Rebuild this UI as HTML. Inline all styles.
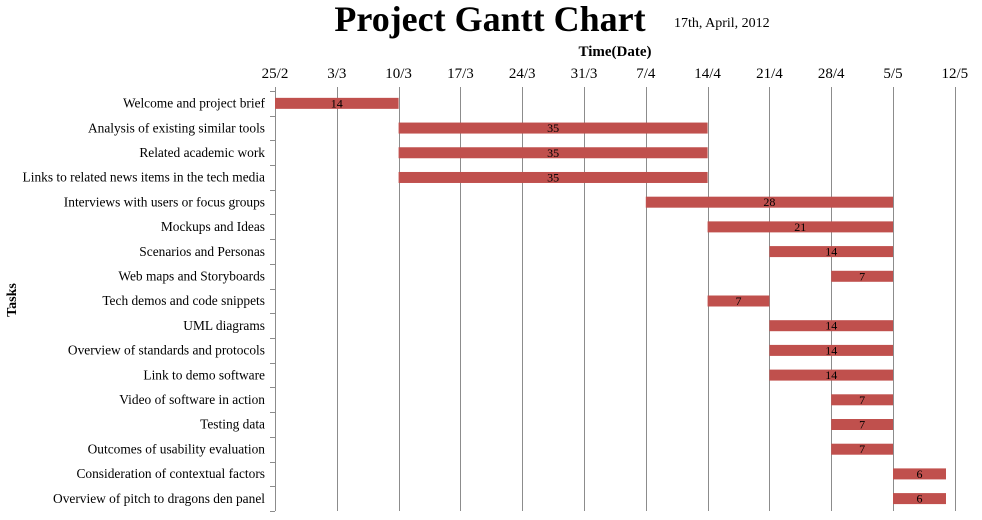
<!DOCTYPE html>
<html><head><meta charset="utf-8"><style>
html,body{margin:0;padding:0;background:#fff;}
svg{display:block;font-family:"Liberation Serif",serif;}
</style></head><body>
<svg width="982" height="520" viewBox="0 0 982 520" xmlns="http://www.w3.org/2000/svg">
<text x="490" y="31" font-size="36" font-weight="bold" text-anchor="middle">Project  Gantt  Chart</text>
<text x="674" y="27" font-size="14">17th,  April,  2012</text>
<text x="615" y="56" font-size="15" font-weight="bold" text-anchor="middle">Time(Date)</text>
<text transform="translate(16,300) rotate(-90)" font-size="14" font-weight="bold" text-anchor="middle">Tasks</text>
<g stroke="#8c8c8c" stroke-width="1">
<line x1="275.5" x2="275.5" y1="87" y2="511"/>
<line x1="337.5" x2="337.5" y1="87" y2="511"/>
<line x1="399.5" x2="399.5" y1="87" y2="511"/>
<line x1="460.5" x2="460.5" y1="87" y2="511"/>
<line x1="522.5" x2="522.5" y1="87" y2="511"/>
<line x1="584.5" x2="584.5" y1="87" y2="511"/>
<line x1="646.5" x2="646.5" y1="87" y2="511"/>
<line x1="708.5" x2="708.5" y1="87" y2="511"/>
<line x1="769.5" x2="769.5" y1="87" y2="511"/>
<line x1="831.5" x2="831.5" y1="87" y2="511"/>
<line x1="893.5" x2="893.5" y1="87" y2="511"/>
<line x1="955.5" x2="955.5" y1="87" y2="511"/>
<line x1="270" x2="275" y1="91.5" y2="91.5"/>
<line x1="270" x2="275" y1="116.5" y2="116.5"/>
<line x1="270" x2="275" y1="140.5" y2="140.5"/>
<line x1="270" x2="275" y1="165.5" y2="165.5"/>
<line x1="270" x2="275" y1="190.5" y2="190.5"/>
<line x1="270" x2="275" y1="214.5" y2="214.5"/>
<line x1="270" x2="275" y1="239.5" y2="239.5"/>
<line x1="270" x2="275" y1="264.5" y2="264.5"/>
<line x1="270" x2="275" y1="289.5" y2="289.5"/>
<line x1="270" x2="275" y1="313.5" y2="313.5"/>
<line x1="270" x2="275" y1="338.5" y2="338.5"/>
<line x1="270" x2="275" y1="363.5" y2="363.5"/>
<line x1="270" x2="275" y1="387.5" y2="387.5"/>
<line x1="270" x2="275" y1="412.5" y2="412.5"/>
<line x1="270" x2="275" y1="437.5" y2="437.5"/>
<line x1="270" x2="275" y1="462.5" y2="462.5"/>
<line x1="270" x2="275" y1="486.5" y2="486.5"/>
<line x1="270" x2="275" y1="511.5" y2="511.5"/>
</g>
<g font-size="15" text-anchor="middle">
<text x="275" y="78">25/2</text>
<text x="336.8" y="78">3/3</text>
<text x="398.6" y="78">10/3</text>
<text x="460.4" y="78">17/3</text>
<text x="522.2" y="78">24/3</text>
<text x="584" y="78">31/3</text>
<text x="645.8" y="78">7/4</text>
<text x="707.6" y="78">14/4</text>
<text x="769.4" y="78">21/4</text>
<text x="831.2" y="78">28/4</text>
<text x="893" y="78">5/5</text>
<text x="954.8" y="78">12/5</text>
</g>
<g font-size="13.4" text-anchor="end">
<text x="265" y="107.6">Welcome and project brief</text>
<text x="265" y="132.3">Analysis of existing similar tools</text>
<text x="265" y="157">Related academic work</text>
<text x="265" y="181.7">Links to related news items in the tech media</text>
<text x="265" y="206.4">Interviews with users or focus groups</text>
<text x="265" y="231.1">Mockups and Ideas</text>
<text x="265" y="255.8">Scenarios and Personas</text>
<text x="265" y="280.5">Web maps and Storyboards</text>
<text x="265" y="305.2">Tech demos and code snippets</text>
<text x="265" y="329.9">UML  diagrams</text>
<text x="265" y="354.6">Overview of standards and protocols</text>
<text x="265" y="379.3">Link to demo software</text>
<text x="265" y="404">Video of software in action</text>
<text x="265" y="428.7">Testing data</text>
<text x="265" y="453.4">Outcomes of usability evaluation</text>
<text x="265" y="478.1">Consideration of contextual factors</text>
<text x="265" y="502.8">Overview of pitch to dragons den panel</text>
</g>
<g fill="#c0504d">
<rect x="275" y="97.85" width="123.6" height="11"/>
<rect x="398.6" y="122.56" width="309" height="11"/>
<rect x="398.6" y="147.26" width="309" height="11"/>
<rect x="398.6" y="171.97" width="309" height="11"/>
<rect x="645.8" y="196.68" width="247.2" height="11"/>
<rect x="707.6" y="221.38" width="185.4" height="11"/>
<rect x="769.4" y="246.09" width="123.6" height="11"/>
<rect x="831.2" y="270.79" width="61.8" height="11"/>
<rect x="707.6" y="295.5" width="61.8" height="11"/>
<rect x="769.4" y="320.2" width="123.6" height="11"/>
<rect x="769.4" y="344.9" width="123.6" height="11"/>
<rect x="769.4" y="369.6" width="123.6" height="11"/>
<rect x="831.2" y="394.3" width="61.8" height="11"/>
<rect x="831.2" y="419" width="61.8" height="11"/>
<rect x="831.2" y="443.7" width="61.8" height="11"/>
<rect x="893" y="468.4" width="53" height="11"/>
<rect x="893" y="493.1" width="53" height="11"/>
</g>
<g font-size="12" text-anchor="middle">
<text x="336.8" y="107.4">14</text>
<text x="553.1" y="132.1">35</text>
<text x="553.1" y="156.8">35</text>
<text x="553.1" y="181.5">35</text>
<text x="769.4" y="206.2">28</text>
<text x="800.3" y="230.9">21</text>
<text x="831.2" y="255.6">14</text>
<text x="862.1" y="280.3">7</text>
<text x="738.5" y="305">7</text>
<text x="831.2" y="329.7">14</text>
<text x="831.2" y="354.4">14</text>
<text x="831.2" y="379.1">14</text>
<text x="862.1" y="403.8">7</text>
<text x="862.1" y="428.5">7</text>
<text x="862.1" y="453.2">7</text>
<text x="919.5" y="477.9">6</text>
<text x="919.5" y="502.6">6</text>
</g>
</svg>
</body></html>
